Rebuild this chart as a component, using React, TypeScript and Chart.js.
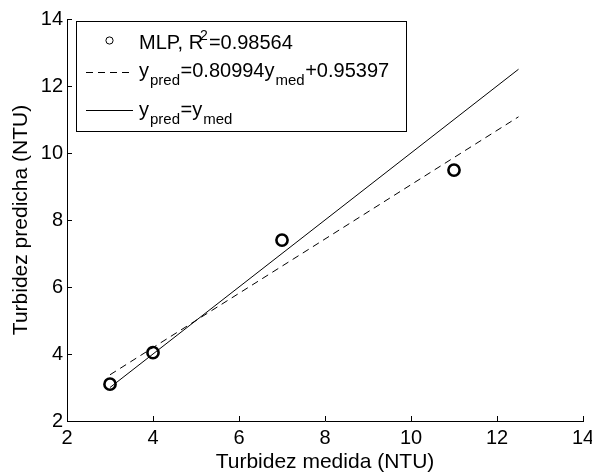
import React, { useEffect, useRef } from "react";
import { Chart, registerables } from "chart.js";

Chart.register(...registerables);

const FONT = '"Liberation Sans", Arial, Helvetica, sans-serif';

// Data
const measuredX = [3, 4, 7, 11];
const predictedY = [3.1, 4.04, 7.4, 9.49];
const fitX = [3, 12.5];
const fitY = [3.38, 11.08];
const idealX = [3, 12.5];
const idealY = [3, 12.5];
const xTicks = [2, 4, 6, 8, 10, 12, 14];
const yTicks = [2, 4, 6, 8, 10, 12, 14];
const xTitle = "Turbidez medida (NTU)";
const yTitle = "Turbidez predicha (NTU)";

type Seg = { t: string; k?: "sub" | "sup" };
const legendMLP: Seg[] = [{ t: "MLP, R" }, { t: "2", k: "sup" }, { t: "=0.98564" }];
const legendFit: Seg[] = [
  { t: "y" },
  { t: "pred", k: "sub" },
  { t: "=0.80994y" },
  { t: "med", k: "sub" },
  { t: "+0.95397" },
];
const legendIdeal: Seg[] = [{ t: "y" }, { t: "pred", k: "sub" }, { t: "=y" }, { t: "med", k: "sub" }];

function drawRich(ctx: CanvasRenderingContext2D, segs: Seg[], x: number, baseline: number) {
  let cx = x;
  ctx.textBaseline = "alphabetic";
  ctx.textAlign = "left";
  ctx.fillStyle = "#000";
  for (const s of segs) {
    if (s.k === "sup") {
      ctx.font = `14px ${FONT}`;
      const w = ctx.measureText(s.t).width;
      ctx.fillText(s.t, cx - 3, baseline - 9);
      cx += w - 2;
    } else if (s.k === "sub") {
      ctx.font = `15px ${FONT}`;
      const w = ctx.measureText(s.t).width;
      ctx.fillText(s.t, cx + 1, baseline + 8);
      cx += w + 1.5;
    } else {
      ctx.font = `20px ${FONT}`;
      const w = ctx.measureText(s.t).width;
      ctx.fillText(s.t, cx, baseline);
      cx += w;
    }
  }
}

const extrasPlugin = {
  id: "matlabExtras",
  afterDraw(chart: any) {
    const ctx: CanvasRenderingContext2D = chart.ctx;
    const xs = chart.scales.x;
    const ys = chart.scales.y;
    const area = chart.chartArea;
    ctx.save();
    // inward tick marks
    ctx.strokeStyle = "#000";
    ctx.lineWidth = 1;
    ctx.beginPath();
    for (const v of xTicks) {
      const px = Math.round(xs.getPixelForValue(v)) + 0.5;
      ctx.moveTo(px, area.bottom);
      ctx.lineTo(px, area.bottom - 5);
    }
    for (const v of yTicks) {
      const py = Math.round(ys.getPixelForValue(v)) + 0.5;
      ctx.moveTo(area.left, py);
      ctx.lineTo(area.left + 5, py);
    }
    ctx.stroke();

    // legend box
    const bx = 76.5, by = 21.5, bw = 330, bh = 110;
    ctx.fillStyle = "#fff";
    ctx.fillRect(bx, by, bw, bh);
    ctx.strokeStyle = "#000";
    ctx.lineWidth = 1;
    ctx.strokeRect(bx, by, bw, bh);

    // row 1 marker
    ctx.beginPath();
    ctx.arc(109.5, 40.5, 3.6, 0, Math.PI * 2);
    ctx.stroke();
    // row 2 dashed
    ctx.beginPath();
    ctx.setLineDash([7, 5]);
    ctx.moveTo(86, 72.5);
    ctx.lineTo(133, 72.5);
    ctx.stroke();
    // row 3 solid
    ctx.beginPath();
    ctx.setLineDash([]);
    ctx.moveTo(86, 110.5);
    ctx.lineTo(133, 110.5);
    ctx.stroke();

    drawRich(ctx, legendMLP, 139, 49);
    drawRich(ctx, legendFit, 139, 77);
    drawRich(ctx, legendIdeal, 139, 115.5);
    ctx.restore();
  },
};

export default function App() {
  const ref = useRef<HTMLCanvasElement | null>(null);

  useEffect(() => {
    if (!ref.current) return;
    const chart = new Chart(ref.current, {
      type: "scatter",
      data: {
        datasets: [
          {
            label: "MLP",
            data: measuredX.map((x, i) => ({ x, y: predictedY[i] })),
            showLine: false,
            pointRadius: 5.6,
            pointBorderWidth: 2.6,
            pointBackgroundColor: "rgba(0,0,0,0)",
            pointBorderColor: "#000",
            order: 0,
          },
          {
            label: "fit",
            data: fitX.map((x, i) => ({ x, y: fitY[i] })),
            showLine: true,
            borderColor: "#000",
            borderWidth: 1,
            borderDash: [7, 5],
            pointRadius: 0,
            order: 1,
          },
          {
            label: "ideal",
            data: idealX.map((x, i) => ({ x, y: idealY[i] })),
            showLine: true,
            borderColor: "#000",
            borderWidth: 1,
            pointRadius: 0,
            order: 2,
          },
        ],
      },
      options: {
        responsive: false,
        animation: false,
        layout: { padding: { top: 19, right: 9, left: 0, bottom: 0 } },
        plugins: {
          legend: { display: false },
          tooltip: { enabled: false },
        },
        scales: {
          x: {
            type: "linear",
            min: 2,
            max: 14,
            afterBuildTicks: (s: any) => {
              s.ticks = xTicks.map((v) => ({ value: v }));
            },
            grid: { display: false, drawTicks: false },
            border: { display: true, color: "#000", width: 1 },
            ticks: {
              color: "#000",
              font: { family: FONT, size: 20 },
              padding: 5,
              maxRotation: 0,
              autoSkip: false,
            },
            title: {
              display: true,
              text: xTitle,
              color: "#000",
              font: { family: FONT, size: 21, lineHeight: 0.9 },
              padding: 0,
            },
            afterFit: (s: any) => {
              s.height = 51;
              s.paddingLeft = 0;
              s.paddingRight = 0;
            },
          },
          y: {
            type: "linear",
            min: 2,
            max: 14,
            afterBuildTicks: (s: any) => {
              s.ticks = yTicks.map((v) => ({ value: v }));
            },
            grid: { display: false, drawTicks: false },
            border: { display: true, color: "#000", width: 1 },
            ticks: {
              color: "#000",
              font: { family: FONT, size: 20 },
              padding: 4,
              autoSkip: false,
            },
            title: {
              display: true,
              text: yTitle,
              color: "#000",
              font: { family: FONT, size: 21, lineHeight: 0.9 },
              padding: { top: 11.5, bottom: 0 },
            },
            afterFit: (s: any) => {
              s.width = 67;
              s.paddingTop = 0;
              s.paddingBottom = 0;
            },
          },
        },
      },
      plugins: [extrasPlugin],
    });
    return () => chart.destroy();
  }, []);

  return (
    <div style={{ position: "fixed", left: 0, top: 0, width: 592, height: 472, background: "#fff" }}>
      <canvas ref={ref} width={592} height={472} style={{ width: 592, height: 472, display: "block" }} />
    </div>
  );
}
